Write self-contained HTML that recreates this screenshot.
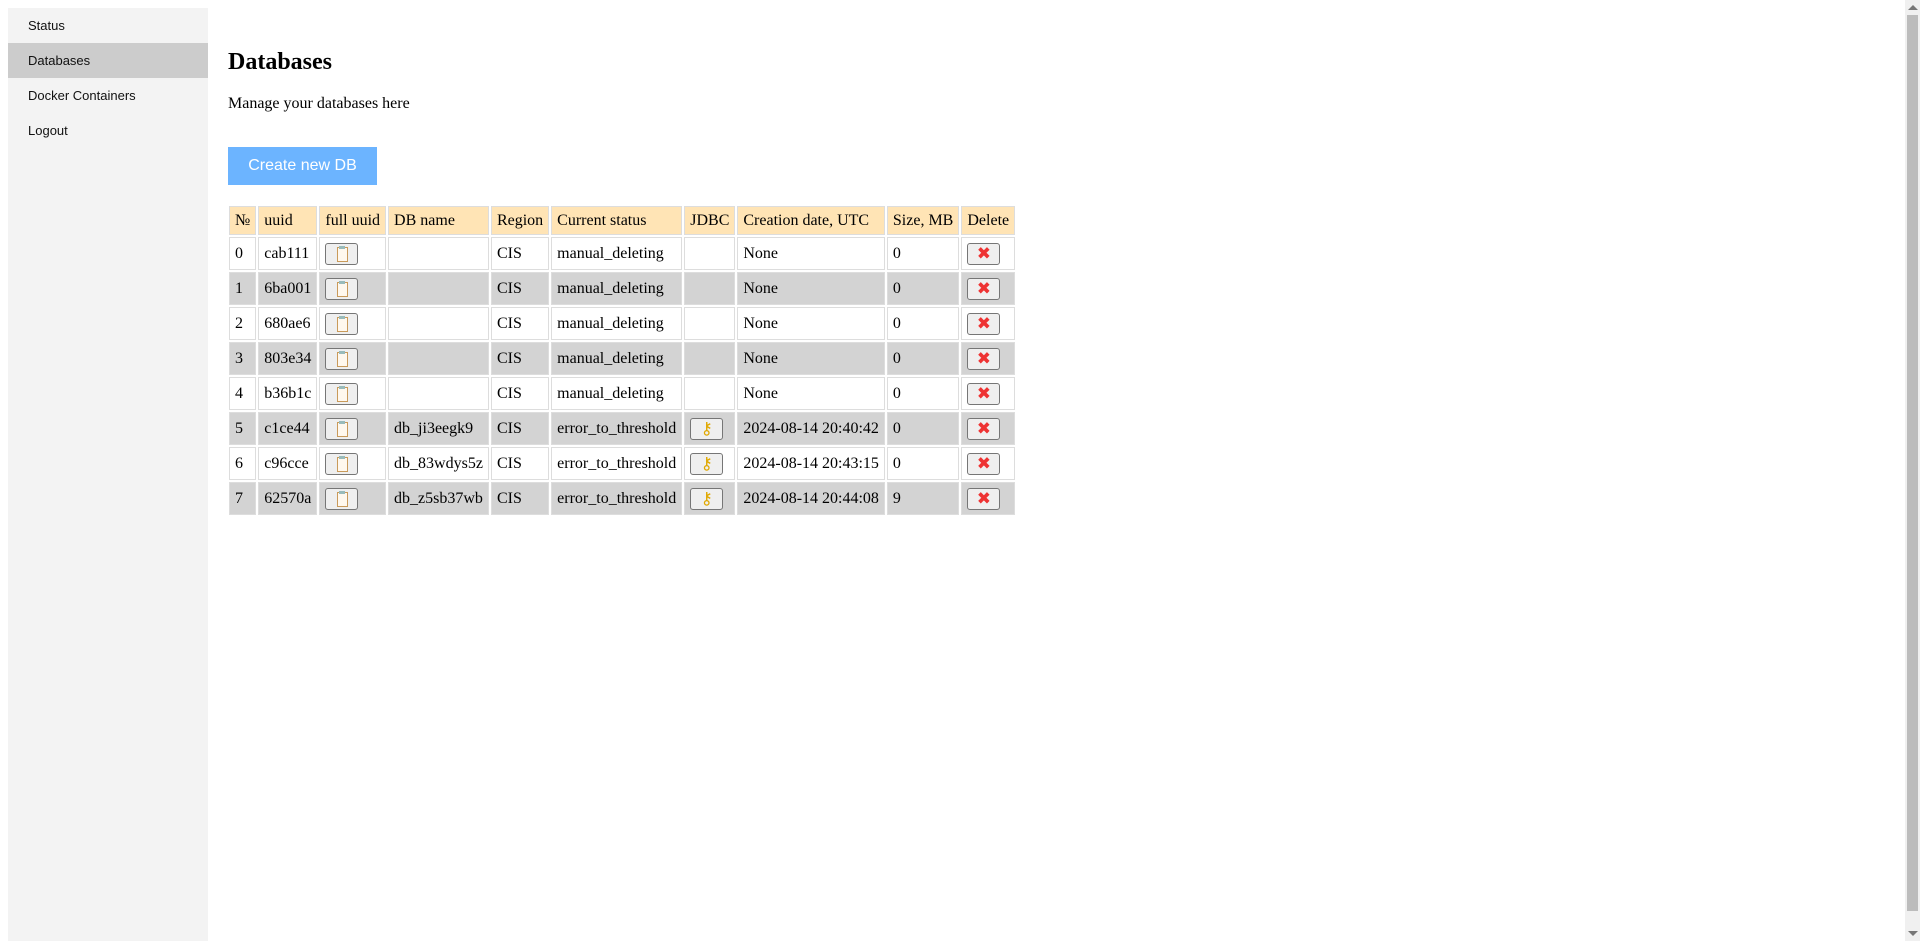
<!DOCTYPE html>
<html><head><meta charset="utf-8"><style>
html,body{margin:0;padding:0;width:1920px;height:941px;overflow:hidden;background:#fff}
.sidebar{position:absolute;left:8px;top:8px;width:200px;height:933px;background:#f3f3f3;font-family:"Liberation Sans",sans-serif;font-size:13px}
.sidebar a{display:block;height:35px;line-height:35px;padding-left:20px;color:#111;text-decoration:none}
.sidebar a.active{background:#cccccc}
.main{position:absolute;left:228px;top:0;font-family:"Liberation Serif",serif;color:#000}
h2{position:absolute;top:47px;left:0;margin:0;font-size:24px;white-space:nowrap;line-height:30px}
.sub{position:absolute;top:94px;left:0;font-size:16px;white-space:nowrap;line-height:20px}
.create{position:absolute;top:147px;left:0;width:149px;height:38px;background:#6cb4ff;color:#fff;border:none;font-family:"Liberation Sans",sans-serif;font-size:16px;padding:0}
table{position:absolute;top:204px;left:-1px;border-spacing:2px;font-size:16px;white-space:nowrap}
th,td{border:1px solid #ddd;text-align:left;padding:2px 5px}
th{background:#ffe4b5;font-weight:normal;height:23px}
td{height:27px}
tr.g td{background:#d3d3d3}
.btn{display:inline-block;width:33px;height:22px;border:1px solid #767676;border-radius:3px;background:#efefef;vertical-align:middle;position:relative;box-sizing:border-box}
.clip::before{content:"";position:absolute;left:11px;top:3px;width:9px;height:13px;border:1px solid #c99a5a;background:#fff8ee}
.clip::after{content:"";position:absolute;left:13px;top:2px;width:6px;height:3px;background:#9bb;}
.key{color:#e0a800;font-family:"DejaVu Sans",sans-serif;font-size:17px;text-align:center;line-height:20px;font-weight:bold}
.del{color:#ee3333;font-family:"DejaVu Sans",sans-serif;font-size:17px;font-weight:bold;text-align:center;line-height:20px}
.scroll{position:absolute;left:1905px;top:0;width:15px;height:941px;background:#f0f0f0}
.thumb{position:absolute;left:2px;top:15px;width:11px;height:896px;background:#bcbcbc}
.up,.dn{position:absolute;left:3px;width:0;height:0;border-left:5px solid transparent;border-right:5px solid transparent}
.up{top:5px;border-bottom:5px solid #777}.dn{bottom:5px;border-top:5px solid #777}
</style></head><body>
<div class="sidebar">
<a>Status</a>
<a class="active">Databases</a>
<a>Docker Containers</a>
<a>Logout</a>
</div>
<div class="main">
<h2>Databases</h2>
<div class="sub">Manage your databases here</div>
<button class="create">Create new DB</button>
<table>
<tr><th>№</th><th>uuid</th><th>full uuid</th><th>DB name</th><th>Region</th><th>Current status</th><th>JDBC</th><th>Creation date, UTC</th><th>Size, MB</th><th>Delete</th></tr>
<tr><td>0</td><td>cab111</td><td><span class="btn clip"></span></td><td></td><td>CIS</td><td>manual_deleting</td><td></td><td>None</td><td>0</td><td><span class="btn del">✖</span></td></tr>
<tr class="g"><td>1</td><td>6ba001</td><td><span class="btn clip"></span></td><td></td><td>CIS</td><td>manual_deleting</td><td></td><td>None</td><td>0</td><td><span class="btn del">✖</span></td></tr>
<tr><td>2</td><td>680ae6</td><td><span class="btn clip"></span></td><td></td><td>CIS</td><td>manual_deleting</td><td></td><td>None</td><td>0</td><td><span class="btn del">✖</span></td></tr>
<tr class="g"><td>3</td><td>803e34</td><td><span class="btn clip"></span></td><td></td><td>CIS</td><td>manual_deleting</td><td></td><td>None</td><td>0</td><td><span class="btn del">✖</span></td></tr>
<tr><td>4</td><td>b36b1c</td><td><span class="btn clip"></span></td><td></td><td>CIS</td><td>manual_deleting</td><td></td><td>None</td><td>0</td><td><span class="btn del">✖</span></td></tr>
<tr class="g"><td>5</td><td>c1ce44</td><td><span class="btn clip"></span></td><td>db_ji3eegk9</td><td>CIS</td><td>error_to_threshold</td><td><span class="btn key">⚷</span></td><td>2024-08-14 20:40:42</td><td>0</td><td><span class="btn del">✖</span></td></tr>
<tr><td>6</td><td>c96cce</td><td><span class="btn clip"></span></td><td>db_83wdys5z</td><td>CIS</td><td>error_to_threshold</td><td><span class="btn key">⚷</span></td><td>2024-08-14 20:43:15</td><td>0</td><td><span class="btn del">✖</span></td></tr>
<tr class="g"><td>7</td><td>62570a</td><td><span class="btn clip"></span></td><td>db_z5sb37wb</td><td>CIS</td><td>error_to_threshold</td><td><span class="btn key">⚷</span></td><td>2024-08-14 20:44:08</td><td>9</td><td><span class="btn del">✖</span></td></tr>
</table>
</div>
<div class="scroll"><div class="up"></div><div class="thumb"></div><div class="dn"></div></div>
</body></html>
